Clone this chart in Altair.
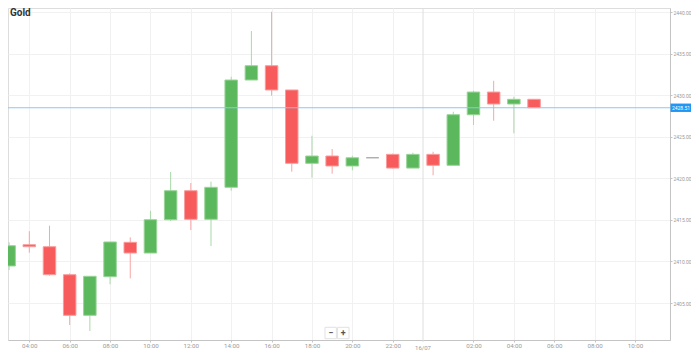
import altair as alt
import pandas as pd

# ---- data (hourly candles, hour index: 24 = 00:00 on 16/07)
hours = [3, 4, 5, 6, 7, 8, 9, 10, 11, 12, 13, 14, 15, 16, 17, 18, 19, 20, 21, 22, 23, 24, 25, 26, 27, 28, 29]
opens = [2409.46, 2412.02, 2411.78, 2408.41, 2403.52, 2408.17, 2412.31, 2411.02, 2415.03, 2418.52,
         2415.08, 2418.93, 2431.85, 2433.57, 2430.65, 2421.82, 2422.70, 2421.50, 2422.49, 2422.90,
         2421.25, 2422.90, 2421.58, 2427.67, 2430.40, 2428.96, 2429.53]
highs = [2412.31, 2413.65, 2414.31, 2408.58, 2408.22, 2412.35, 2412.91, 2416.11, 2420.77, 2419.45,
         2419.61, 2432.25, 2437.75, 2440.07, 2430.65, 2425.14, 2423.54, 2422.73, 2422.49, 2423.00,
         2423.10, 2423.22, 2428.03, 2430.56, 2431.76, 2429.84, 2429.53]
lows = [2408.97, 2411.06, 2408.29, 2402.35, 2401.63, 2407.25, 2407.97, 2411.02, 2414.87, 2413.79,
        2411.86, 2418.52, 2431.85, 2429.96, 2420.81, 2420.09, 2420.57, 2420.98, 2422.49, 2421.20,
        2421.25, 2420.38, 2421.58, 2426.43, 2426.95, 2425.43, 2428.51]
closes = [2411.90, 2411.78, 2408.41, 2403.52, 2408.22, 2412.35, 2411.02, 2415.03, 2418.52, 2415.08,
          2418.93, 2431.85, 2433.57, 2430.65, 2421.82, 2422.70, 2421.50, 2422.49, 2422.49, 2421.25,
          2422.90, 2421.58, 2427.67, 2430.40, 2428.96, 2429.53, 2428.51]

x_ticks = [4, 6, 8, 10, 12, 14, 16, 18, 20, 22, 26, 28, 30, 32, 34]
y_ticks = [2405, 2410, 2415, 2420, 2425, 2430, 2435, 2440]
day_break = [23.5]
day_label = ["16/07"]
last_price = [2428.51]
last_label = ["2428.51"]
title_text = ["Gold"]

def direction(o, c):
    if c > o:
        return "up"
    if c < o:
        return "down"
    return "flat"

df = pd.DataFrame({"hour": hours, "open": opens, "high": highs, "low": lows, "close": closes})
df["dir"] = [direction(o, c) for o, c in zip(opens, closes)]

W, H = 662, 332
PX_PER_HOUR = 20.19
PX_PER_USD = 8.306
FONT = "Roboto"
LBL = "#9a9a9a"

x0 = 2.945
y_top = 2440.52
xscale = alt.Scale(domain=[x0, x0 + W / PX_PER_HOUR], nice=False, zero=False, padding=0)
yscale = alt.Scale(domain=[y_top - H / PX_PER_USD, y_top], nice=False, zero=False, padding=0)

label_expr = "(datum.value % 24 < 10 ? '0' : '') + (datum.value % 24) + ':00'"

xaxis = alt.Axis(values=x_ticks, labelExpr=label_expr, grid=True, gridColor="#f1f1f1",
                 domainColor="#c4c4c4", tickColor="#c4c4c4", tickSize=2, labelFontSize=6.2,
                 labelColor=LBL, labelPadding=0, title=None, labelFont=FONT)
yaxis = alt.Axis(orient="right", values=y_ticks, format=".2f", grid=True, gridColor="#f1f1f1",
                 domainColor="#c4c4c4", tickColor="#c4c4c4", tickSize=2, labelFontSize=5,
                 labelColor=LBL, labelPadding=1, title=None, labelFont=FONT)

dirs = ["up", "down", "flat"]

base = alt.Chart(df)

wicks = base.mark_rule(strokeWidth=1).encode(
    x=alt.X("hour:Q", scale=xscale, axis=xaxis),
    y=alt.Y("low:Q", scale=yscale, axis=yaxis),
    y2="high:Q",
    color=alt.Color("dir:N", scale=alt.Scale(domain=dirs, range=["#a9d9a9", "#f7a6a6", "#aaaaaa"]), legend=None),
)

bodies = base.mark_bar(size=12.5, strokeWidth=1).encode(
    x=alt.X("hour:Q", scale=xscale),
    y=alt.Y("open:Q", scale=yscale),
    y2="close:Q",
    fill=alt.Fill("dir:N", scale=alt.Scale(domain=dirs, range=["#5cb85c", "#f75b5b", "#aaaaaa"]), legend=None),
    stroke=alt.Stroke("dir:N", scale=alt.Scale(domain=dirs, range=["#98d498", "#f99c9c", "#aaaaaa"]), legend=None),
)

sep = alt.Chart(pd.DataFrame({"x": day_break, "lab": day_label}))
sep_rule = sep.mark_rule(color="#dedede", strokeWidth=1).encode(
    x=alt.X("x:Q", scale=xscale), y=alt.value(0), y2=alt.value(H + 2))
sep_text = sep.mark_text(fontSize=6, color=LBL, font=FONT, baseline="middle", clip=False).encode(
    x=alt.X("x:Q", scale=xscale), y=alt.value(H + 8.3), text="lab:N")

lp = alt.Chart(pd.DataFrame({"p": last_price, "lab": last_label}))
lp_rule = lp.mark_rule(color="#8cc6f2", strokeWidth=1).encode(
    y=alt.Y("p:Q", scale=yscale), x=alt.value(0), x2=alt.value(W))
lp_box = lp.mark_point(shape="M-1,-0.4L1,-0.4L1,0.4L-1,0.4Z", filled=True, opacity=1,
                       color="#2196f3", size=441, clip=False).encode(
    y=alt.Y("p:Q", scale=yscale), x=alt.value(W + 11))
lp_txt = lp.mark_text(color="white", fontSize=5, font=FONT, clip=False, baseline="middle").encode(
    y=alt.Y("p:Q", scale=yscale), x=alt.value(W + 11), text="lab:N")

ttl = alt.Chart(pd.DataFrame({"t": title_text})).mark_text(
    align="left", baseline="middle", fontSize=10, fontWeight="bold", color="#333333", font=FONT
).encode(x=alt.value(2), y=alt.value(5), text="t:N")

btn_labels = pd.DataFrame({"minus": ["−"], "plus": ["+"]})
btn_box1 = alt.Chart(btn_labels).mark_point(shape="square", filled=True, color="white", stroke="#e2e2e2",
                                            strokeWidth=1, size=130, opacity=1).encode(
    x=alt.value(322.7), y=alt.value(325))
btn_box2 = alt.Chart(btn_labels).mark_point(shape="square", filled=True, color="white", stroke="#e2e2e2",
                                            strokeWidth=1, size=130, opacity=1).encode(
    x=alt.value(335.3), y=alt.value(325))
btn_t1 = alt.Chart(btn_labels).mark_text(fontSize=9, fontWeight="bold", color="#555555").encode(
    x=alt.value(322.7), y=alt.value(325), text="minus:N")
btn_t2 = alt.Chart(btn_labels).mark_text(fontSize=9, fontWeight="bold", color="#555555").encode(
    x=alt.value(335.3), y=alt.value(325), text="plus:N")

chart = alt.layer(
    sep_rule, wicks, bodies, lp_rule, lp_box, lp_txt, sep_text, ttl,
    btn_box1, btn_box2, btn_t1, btn_t2
).resolve_scale(color="independent").properties(
    width=W, height=H,
    autosize=alt.AutoSizeParams(type="none"),
    padding={"left": 0, "top": 0, "right": 21, "bottom": 11},
).configure_view(stroke=None).configure(font=FONT, background="white")

chart.save("out.html", embed_options={"renderer": "svg", "actions": False})
